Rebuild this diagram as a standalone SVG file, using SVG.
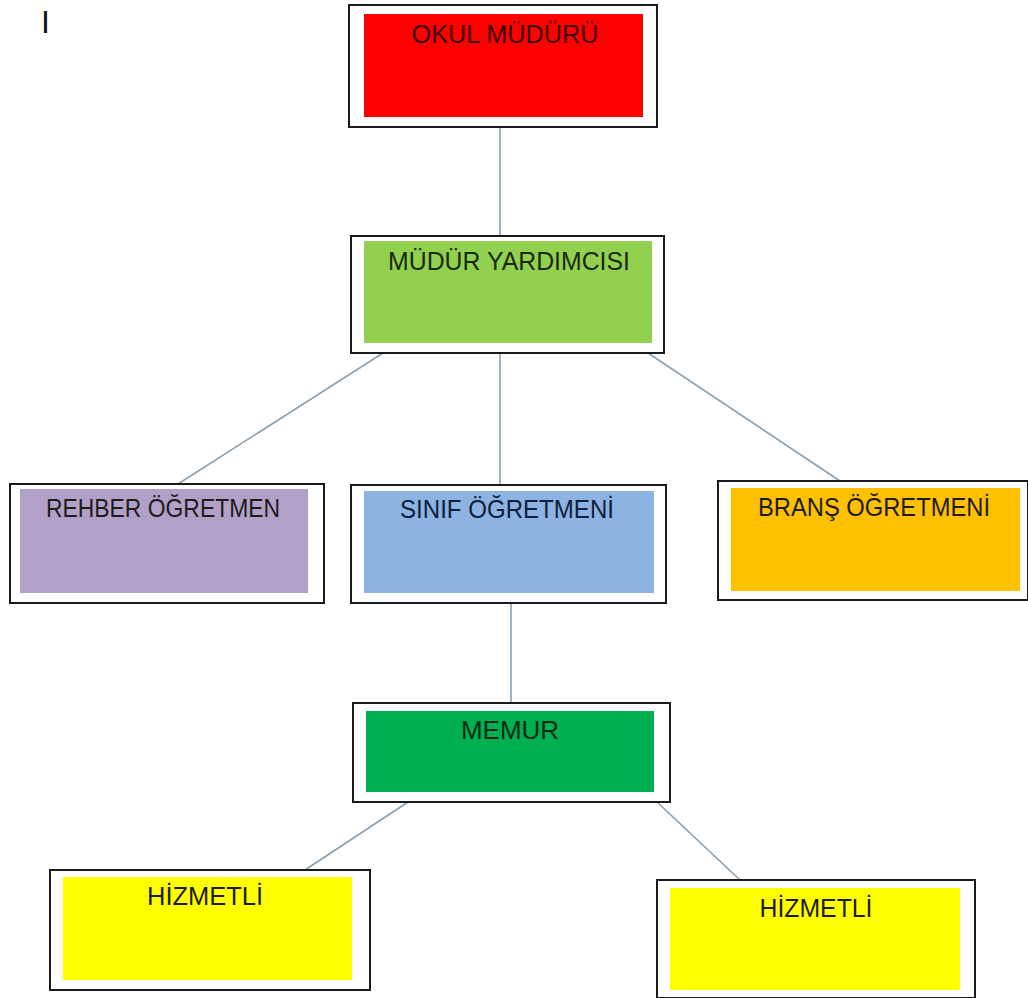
<svg xmlns="http://www.w3.org/2000/svg" width="1028" height="998" viewBox="0 0 1028 998">
<style>
.frame{fill:#ffffff;stroke:#1a1a1a;stroke-width:2}
.lbl{font-family:"Liberation Sans",Arial,sans-serif;font-size:26px;fill:#1c1c1c;text-anchor:middle}
.con{stroke:#8a9fb0;stroke-width:1.6;fill:none}
</style>
<rect width="1028" height="998" fill="#ffffff"/>
<text x="41" y="33" style="font-family:'Liberation Sans',Arial,sans-serif;font-size:32px;fill:#111">I</text>
<g id="connectors">
<line class="con" x1="500" y1="127" x2="500" y2="236"/>
<line class="con" x1="383" y1="353" x2="178" y2="484"/>
<line class="con" x1="500" y1="353" x2="500" y2="485"/>
<line class="con" x1="648" y1="353" x2="840" y2="481"/>
<line class="con" x1="511" y1="603" x2="511" y2="703"/>
<line class="con" x1="408" y1="802" x2="305" y2="870"/>
<line class="con" x1="657" y1="802" x2="740" y2="880"/>
</g>
<g id="okul-muduru">
<rect class="frame" x="349" y="5" width="308" height="122"/>
<rect x="364" y="14" width="279" height="103" fill="#ff0000"/>
<text class="lbl" x="505" y="43" textLength="187" lengthAdjust="spacingAndGlyphs" style="fill:#3a0000">OKUL MÜDÜRÜ</text>
</g>
<g id="mudur-yardimcisi">
<rect class="frame" x="351" y="236" width="313" height="117"/>
<rect x="364" y="241" width="288" height="102" fill="#92d050"/>
<text class="lbl" x="509" y="270" textLength="242" lengthAdjust="spacingAndGlyphs" style="fill:#1a2a10">MÜDÜR YARDIMCISI</text>
</g>
<g id="rehber-ogretmen">
<rect class="frame" x="10" y="484" width="314" height="119"/>
<rect x="20" y="489" width="288" height="104" fill="#b1a0c7"/>
<text class="lbl" x="163" y="517" textLength="234" lengthAdjust="spacingAndGlyphs">REHBER ÖĞRETMEN</text>
</g>
<g id="sinif-ogretmeni">
<rect class="frame" x="351" y="485" width="315" height="118"/>
<rect x="364" y="491" width="290" height="102" fill="#8db3e2"/>
<text class="lbl" x="507" y="518" textLength="214" lengthAdjust="spacingAndGlyphs" style="fill:#10203a">SINIF ÖĞRETMENİ</text>
</g>
<g id="brans-ogretmeni">
<rect class="frame" x="718" y="481" width="310" height="119"/>
<rect x="731" y="488" width="289" height="103" fill="#ffc000"/>
<text class="lbl" x="874" y="516" textLength="232" lengthAdjust="spacingAndGlyphs">BRANŞ ÖĞRETMENİ</text>
</g>
<g id="memur">
<rect class="frame" x="353" y="703" width="317" height="99"/>
<rect x="366" y="711" width="288" height="81" fill="#00b050"/>
<text class="lbl" x="510" y="739" textLength="98" lengthAdjust="spacingAndGlyphs" style="fill:#0a2a14">MEMUR</text>
</g>
<g id="hizmetli-1">
<rect class="frame" x="50" y="870" width="320" height="120"/>
<rect x="63" y="877" width="289" height="103" fill="#ffff00"/>
<text class="lbl" x="205" y="905" textLength="116" lengthAdjust="spacingAndGlyphs">HİZMETLİ</text>
</g>
<g id="hizmetli-2">
<rect class="frame" x="657" y="880" width="318" height="118"/>
<rect x="670" y="888" width="290" height="102" fill="#ffff00"/>
<text class="lbl" x="816" y="917" textLength="113" lengthAdjust="spacingAndGlyphs">HİZMETLİ</text>
</g>
</svg>
